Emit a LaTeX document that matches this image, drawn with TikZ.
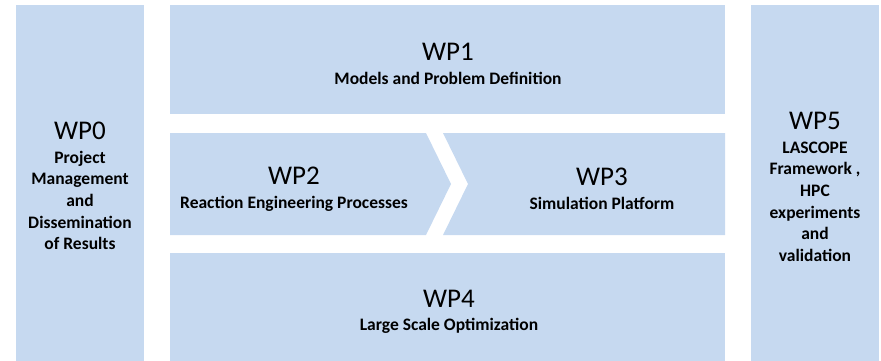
\documentclass[tikz,border=0pt]{standalone}
\usepackage{fontspec}
\setmainfont{Carlito}
\definecolor{wpblue}{RGB}{198,217,240}
\tikzset{
  wpbox/.style={fill=wpblue},
  wptext/.style={align=center, inner sep=0pt, font=\fontsize{17.5}{21.6}\selectfont\bfseries},
}
\newcommand{\wpname}[1]{{\fontsize{27}{28}\selectfont\mdseries #1}}

\begin{document}
\begin{tikzpicture}[x=1pt,y=-1pt]
\useasboundingbox (0,0) rectangle (881,361);
\fill[wpbox] (16,5) rectangle (144,361);
\fill[wpbox] (170,5) rectangle (725,114);
\fill[wpbox] (170,133) -- (426,133) -- (451,184) -- (426,235) -- (170,235) -- cycle;
\fill[wpbox] (443,133) -- (725,133) -- (725,235) -- (443,235) -- (468,184) -- cycle;
\fill[wpbox] (170,253) rectangle (725,361);
\fill[wpbox] (751,5) rectangle (879,361);
\node[wptext] (wp0) at (80,186) {\wpname{WP0}\\[2pt] Project\\ Management\\ and\\ Dissemination\\ of Results};
\node[wptext] (wp1) at (448,64) {\wpname{WP1}\\[2pt] Models and Problem Definition};
\node[wptext] (wp2) at (294,189) {\wpname{WP2}\\[2pt] Reaction Engineering Processes};
\node[wptext] (wp3) at (602,189) {\wpname{WP3}\\[2pt] Simulation Platform};
\node[wptext] (wp4) at (449,312) {\wpname{WP4}\\[2pt] Large Scale Optimization};
\node[wptext] (wp5) at (815,187) {\wpname{WP5}\\[2pt] LASCOPE\\ Framework ,\\ HPC\\ experiments\\ and\\ validation};
\end{tikzpicture}
\end{document}
